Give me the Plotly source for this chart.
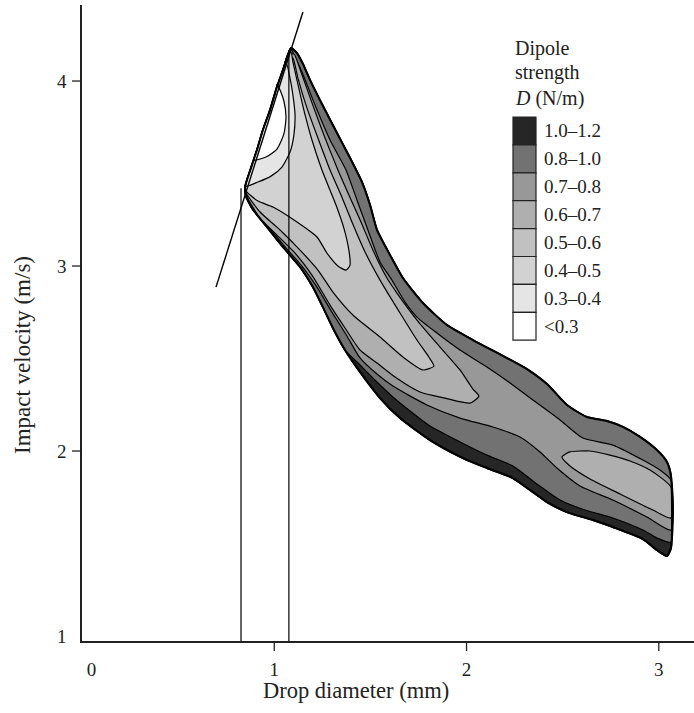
import plotly.graph_objects as go

# ---------------- data ----------------
x_tick_vals = [0, 1, 2, 3]
x_tick_text = ["\u2002\u20020", "1", "2", "3"]
y_tick_vals = [1, 2, 3, 4]
x_range = [0.0, 3.183]
y_range = [0.973, 4.411]

levels = ["1.0–1.2", "0.8–1.0", "0.7–0.8", "0.6–0.7", "0.5–0.6", "0.4–0.5", "0.3–0.4", "<0.3"]
level_colors = ["#262626", "#727272", "#989898", "#afafaf", "#c1c1c1", "#d2d2d2", "#e5e5e5", "#ffffff"]

# outer boundary of the measured region (left tip -> top tip -> right end -> back along bottom)
outer_x = [0.848, 0.879, 0.910, 0.941, 0.978, 1.009, 1.045, 1.071, 1.087, 1.118,
           1.149, 1.186, 1.253, 1.326, 1.394, 1.456, 1.498, 1.534, 1.602, 1.669,
           1.773, 1.898, 2.033, 2.189, 2.304, 2.418, 2.522, 2.626, 2.730, 2.813,
           2.902, 2.990, 3.042, 3.063, 3.063, 3.042, 2.990, 2.917, 2.761, 2.657,
           2.522, 2.418, 2.330, 2.241, 2.106, 1.981, 1.810, 1.654, 1.550, 1.446,
           1.368, 1.305, 1.253, 1.201, 1.134, 1.045, 0.962, 0.884, 0.853]
outer_y = [3.427, 3.530, 3.627, 3.735, 3.843, 3.951, 4.059, 4.141, 4.178, 4.151,
           4.092, 4.005, 3.865, 3.719, 3.584, 3.454, 3.330, 3.195, 3.059, 2.935,
           2.800, 2.681, 2.600, 2.514, 2.449, 2.362, 2.249, 2.184, 2.162, 2.130,
           2.076, 2.005, 1.941, 1.865, 1.476, 1.432, 1.465, 1.524, 1.589, 1.627,
           1.670, 1.724, 1.789, 1.854, 1.908, 1.962, 2.059, 2.178, 2.286, 2.427,
           2.546, 2.665, 2.778, 2.886, 2.995, 3.103, 3.211, 3.314, 3.384]

# D = 1.0 contour (top of the darkest strip along the bottom edge), right to left
c10_x = [3.063, 2.990, 2.917, 2.761, 2.616, 2.486, 2.366, 2.241, 2.106, 1.966,
         1.810, 1.706, 1.617, 1.534, 1.446]
c10_y = [1.508, 1.530, 1.573, 1.638, 1.681, 1.735, 1.822, 1.919, 1.978, 2.049,
         2.135, 2.216, 2.292, 2.373, 2.465]

# D = 0.8 contour: upper branch (top tip -> right edge), lower branch (right edge -> left tip)
c08_upper_x = [1.102, 1.144, 1.212, 1.290, 1.373, 1.430, 1.487, 1.550, 1.612, 1.680,
               1.742, 1.846, 1.966, 2.106, 2.226, 2.345, 2.486, 2.605, 2.761, 2.917,
               3.006, 3.063, 3.063]
c08_upper_y = [4.141, 4.049, 3.870, 3.681, 3.519, 3.357, 3.195, 3.022, 2.924, 2.805,
               2.724, 2.638, 2.546, 2.454, 2.368, 2.276, 2.168, 2.070, 2.032, 1.951,
               1.897, 1.843, 1.573]
c08_lower_x = [2.938, 2.761, 2.590, 2.470, 2.382, 2.278, 2.137, 1.966, 1.794, 1.617,
               1.534, 1.446, 1.378, 1.300, 1.222, 1.144, 1.071, 0.988, 0.915, 0.853]
c08_lower_y = [1.643, 1.735, 1.811, 1.908, 1.995, 2.076, 2.130, 2.178, 2.249, 2.351,
               2.416, 2.503, 2.622, 2.751, 2.886, 3.000, 3.086, 3.189, 3.281, 3.368]

# D = 0.7 contours: long finger from the left tip, and closed lobe at the right end
c07_finger_x = [0.848, 0.926, 1.019, 1.108, 1.196, 1.290, 1.368, 1.446, 1.534, 1.628,
                1.758, 1.888, 2.018, 2.064, 2.033, 1.966, 1.862, 1.742, 1.638, 1.586,
                1.513, 1.451, 1.388, 1.331, 1.258, 1.191, 1.139, 1.102]
c07_finger_y = [3.395, 3.259, 3.162, 3.070, 2.951, 2.789, 2.665, 2.546, 2.476, 2.400,
                2.319, 2.286, 2.259, 2.297, 2.335, 2.438, 2.562, 2.708, 2.854, 2.935,
                3.086, 3.238, 3.384, 3.519, 3.708, 3.897, 4.049, 4.146]
c07_lobe_x = [2.496, 2.538, 2.642, 2.746, 2.850, 2.954, 3.063, 3.063, 2.969, 2.798, 2.642, 2.538]
c07_lobe_y = [1.968, 1.995, 2.000, 1.978, 1.946, 1.897, 1.805, 1.638, 1.681, 1.768, 1.849, 1.919]

# D = 0.6 contour
c06_x = [0.848, 0.926, 1.030, 1.134, 1.227, 1.305, 1.409, 1.550, 1.669, 1.773,
         1.830, 1.804, 1.742, 1.654, 1.550, 1.472, 1.404, 1.347, 1.290, 1.227,
         1.165, 1.123, 1.097]
c06_y = [3.405, 3.292, 3.195, 3.086, 2.978, 2.859, 2.735, 2.616, 2.508, 2.438,
         2.459, 2.508, 2.600, 2.746, 2.924, 3.076, 3.238, 3.384, 3.519, 3.692,
         3.870, 4.016, 4.124]

# D = 0.5 contour
c05_x = [0.848, 0.915, 0.993, 1.118, 1.222, 1.274, 1.331, 1.373, 1.394, 1.388,
         1.362, 1.321, 1.248, 1.196, 1.154, 1.118, 1.097, 1.087]
c05_y = [3.411, 3.351, 3.319, 3.238, 3.157, 3.070, 3.000, 2.978, 3.005, 3.086,
         3.205, 3.330, 3.519, 3.681, 3.843, 4.005, 4.103, 4.157]

# D = 0.4 contour (arc against the left boundary)
c04_x = [0.853, 0.915, 0.983, 1.040, 1.082, 1.102, 1.108, 1.097, 1.082, 1.061]
c04_y = [3.432, 3.454, 3.486, 3.535, 3.616, 3.708, 3.816, 3.924, 4.016, 4.103]

# D = 0.3 contour (arc against the left boundary)
c03_x = [0.894, 0.957, 1.014, 1.050, 1.061, 1.050, 1.030, 1.014]
c03_y = [3.573, 3.589, 3.632, 3.714, 3.805, 3.892, 3.951, 3.984]

# construction lines
guide_x = [0.827, 1.076]
guide_top = [3.42, 4.16]
tangent_x = [0.697, 1.149]
tangent_y = [2.886, 4.373]

# ---------------- figure ----------------
W, H = 694, 713
ML, MR, MT, MB = 82, 0, 5, 72
PW, PH = W - ML - MR, H - MT - MB
FONT = "Liberation Serif, Times New Roman, serif"


def px(xp):
    return (xp - ML) / PW


def py(yp):
    return (MT + PH - yp) / PH


def closed(xs, ys):
    return list(xs) + [xs[0]], list(ys) + [ys[0]]


def poly(xs, ys, color, lw=1.2):
    xs, ys = closed(xs, ys)
    return go.Scatter(x=xs, y=ys, mode="lines", fill="toself", fillcolor=color,
                      line=dict(color="black", width=lw, shape="spline", smoothing=0.6),
                      hoverinfo="skip", showlegend=False)


fig = go.Figure()

left_down_x, left_down_y = outer_x[7::-1], outer_y[7::-1]   # near top tip -> left tip

fig.add_trace(poly(outer_x, outer_y, level_colors[0], 2))
fig.add_trace(poly(outer_x[:34] + c10_x + outer_x[50:], outer_y[:34] + c10_y + outer_y[50:], level_colors[1]))
fig.add_trace(poly(outer_x[:9] + c08_upper_x + c08_lower_x, outer_y[:9] + c08_upper_y + c08_lower_y, level_colors[2]))
fig.add_trace(poly(c07_finger_x + left_down_x, c07_finger_y + left_down_y, level_colors[3]))
fig.add_trace(poly(c07_lobe_x, c07_lobe_y, level_colors[3]))
fig.add_trace(poly(c06_x + left_down_x, c06_y + left_down_y, level_colors[4]))
fig.add_trace(poly(c05_x + left_down_x, c05_y + left_down_y, level_colors[5]))
fig.add_trace(poly(c04_x + outer_x[6:0:-1], c04_y + outer_y[6:0:-1], level_colors[6]))
fig.add_trace(poly(c03_x + outer_x[5:1:-1], c03_y + outer_y[5:1:-1], level_colors[7]))

ox, oy = closed(outer_x, outer_y)
fig.add_trace(go.Scatter(x=ox, y=oy, mode="lines",
                         line=dict(color="black", width=2, shape="spline", smoothing=0.6),
                         hoverinfo="skip", showlegend=False))

for gx, gt in zip(guide_x, guide_top):
    fig.add_trace(go.Scatter(x=[gx, gx], y=[y_range[0], gt], mode="lines",
                             line=dict(color="black", width=1.2),
                             hoverinfo="skip", showlegend=False))
fig.add_trace(go.Scatter(x=tangent_x, y=tangent_y, mode="lines",
                         line=dict(color="black", width=1.4),
                         hoverinfo="skip", showlegend=False))

shapes = []
for v in x_tick_vals[1:]:
    shapes.append(dict(type="line", xref="x", yref="paper", x0=v, x1=v, y0=0, y1=-10 / PH,
                       line=dict(color="#222", width=1.3)))
for v in y_tick_vals[1:]:
    shapes.append(dict(type="line", xref="paper", yref="y", x0=-10 / PW, x1=0, y0=v, y1=v,
                       line=dict(color="#222", width=1.3)))

annotations = []
box_top, box_h = 117, 27.9
for i, (lab, col) in enumerate(zip(levels, level_colors)):
    t = box_top + i * box_h
    shapes.append(dict(type="rect", xref="paper", yref="paper",
                       x0=px(513), x1=px(536), y0=py(t + box_h), y1=py(t),
                       fillcolor=col, line=dict(color="#222", width=1.2)))
    annotations.append(dict(xref="paper", yref="paper", x=px(542), y=py(t + box_h / 2),
                            text=lab, showarrow=False, xanchor="left", yanchor="middle",
                            font=dict(family=FONT, size=19, color="#222")))
for txt, yy in [("Dipole", 48), ("strength", 73), ("<i>D</i> (N/m)", 98)]:
    annotations.append(dict(xref="paper", yref="paper", x=px(513), y=py(yy), text=txt,
                            showarrow=False, xanchor="left", yanchor="middle",
                            font=dict(family=FONT, size=20, color="#222")))
annotations.append(dict(xref="paper", yref="paper", x=px(356), y=py(690),
                        text="Drop diameter (mm)", showarrow=False,
                        xanchor="center", yanchor="middle",
                        font=dict(family=FONT, size=22.5, color="#222")))
annotations.append(dict(xref="paper", yref="paper", x=px(22), y=py(355),
                        text="Impact velocity (m/s)", showarrow=False, textangle=-90,
                        xanchor="center", yanchor="middle",
                        font=dict(family=FONT, size=23, color="#222")))

axis_common = dict(showgrid=False, zeroline=False, showline=True, linecolor="#222", linewidth=1.5,
                   ticks="outside", ticklen=10, tickcolor="rgba(0,0,0,0)",
                   tickfont=dict(family=FONT, size=19, color="#222"))
fig.update_layout(
    width=W, height=H, margin=dict(l=ML, r=MR, t=MT, b=MB),
    paper_bgcolor="white", plot_bgcolor="white",
    xaxis=dict(range=x_range, tickvals=x_tick_vals, ticktext=x_tick_text, **axis_common),
    yaxis=dict(range=y_range, tickvals=y_tick_vals, **axis_common),
    shapes=shapes, annotations=annotations, showlegend=False,
)

fig.write_html("out.html")
